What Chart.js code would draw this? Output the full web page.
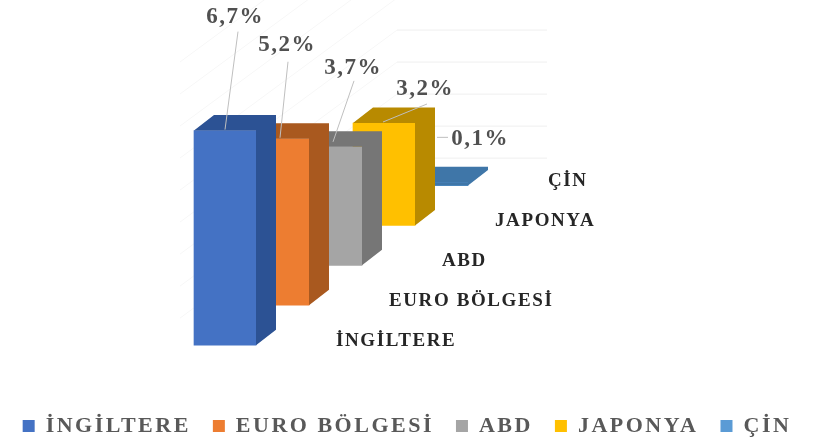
<!DOCTYPE html>
<html>
<head>
<meta charset="utf-8">
<style>
  html, body { margin: 0; padding: 0; background: #fff; }
  #wrap { width: 814px; height: 443px; }
  canvas { filter: blur(0.5px); }
</style>
<script src="https://cdn.jsdelivr.net/npm/chart.js@4"></script>
</head>
<body>
<div id="wrap"><canvas id="chart" width="814" height="443"></canvas></div>
<script>
const regions = ["İNGİLTERE", "EURO BÖLGESİ", "ABD", "JAPONYA", "ÇİN"];
const rates = [6.7, 5.2, 3.7, 3.2, 0.1];
const rateLabels = ["6,7%", "5,2%", "3,7%", "3,2%", "0,1%"];
const frontColors = ["#4472c4", "#ed7d31", "#a5a5a5", "#ffc000", "#5b9bd5"];
const sideColors = ["#2c5294", "#a9591f", "#767676", "#b88a00", "#3f76a8"];

// bars step back in depth, so each one floats a bit higher than the last
const depthStep = 1.246;
const depthX = 20;
const depthY = 15.5;

// leader line start/end and label centre, relative to the bar top
const leaders = [
  { sx: 0, sy: -1, ex: 13, ey: -99, lx: 10, ly: -114 },
  { sx: 2, sy: -1, ex: 10, ey: -77, lx: 9, ly: -94 },
  { sx: 2, sy: -5, ex: 23, ey: -66, lx: 22, ly: -79 },
  { sx: -1, sy: -1, ex: 43, ey: -19, lx: 41, ly: -34 },
  { sx: 0, sy: -45, ex: 11, ey: -45, lx: 43, ly: -43 },
];

const wallBase = 4.84;

const bars3d = {
  id: "bars3d",
  // canvas sizing wipes the context state, so set this once sizing is done
  beforeUpdate(chart) {
    chart.ctx.letterSpacing = "2.5px";
  },
  beforeDatasetsDraw(chart) {
    const ctx = chart.ctx;
    const y = chart.scales.y;
    ctx.save();
    ctx.lineWidth = 1;
    for (let n = 1; n <= 9; n++) {
      const py = y.getPixelForValue(wallBase + n);
      if (n <= 5) {
        ctx.strokeStyle = "#efefef";
        ctx.beginPath();
        ctx.moveTo(397, py);
        ctx.lineTo(547, py);
        ctx.stroke();
      }
      ctx.strokeStyle = "#f7f7f7";
      ctx.beginPath();
      ctx.moveTo(397, py);
      ctx.lineTo(180, py + 160);
      ctx.stroke();
    }
    ctx.restore();
  },
  afterDatasetDraw(chart, args) {
    const ctx = chart.ctx;
    const i = args.index;
    const bar = args.meta.data[i];
    const right = bar.x + bar.width / 2;
    const left = bar.x - bar.width / 2;
    ctx.save();
    ctx.fillStyle = sideColors[i];
    // a very short bar reads as one flat shape
    if (bar.base - bar.y < 5) {
      ctx.fillRect(left, bar.y, bar.width, bar.base - bar.y);
    }
    ctx.beginPath();
    ctx.moveTo(left, bar.y);
    ctx.lineTo(left + depthX, bar.y - depthY);
    ctx.lineTo(right + depthX, bar.y - depthY);
    ctx.lineTo(right + depthX, bar.base - depthY);
    ctx.lineTo(right, bar.base);
    ctx.lineTo(right, bar.y);
    ctx.closePath();
    ctx.fill();
    ctx.restore();
  },
  afterDatasetsDraw(chart) {
    const ctx = chart.ctx;
    ctx.save();
    ctx.textBaseline = "middle";
    regions.forEach(function (name, i) {
      const bar = chart.getDatasetMeta(i).data[i];
      const l = leaders[i];
      ctx.strokeStyle = "#bfbfbf";
      ctx.lineWidth = 1;
      ctx.beginPath();
      ctx.moveTo(bar.x + l.sx, bar.y + l.sy);
      ctx.lineTo(bar.x + l.ex, bar.y + l.ey);
      ctx.stroke();

      ctx.letterSpacing = "1.5px";
      ctx.font = "bold 23px 'Liberation Serif'";
      ctx.fillStyle = "#505050";
      ctx.textAlign = "center";
      ctx.fillText(rateLabels[i], bar.x + l.lx, bar.y + l.ly);

      ctx.letterSpacing = "1.6px";
      ctx.font = "bold 19px 'Liberation Serif'";
      ctx.fillStyle = "#262626";
      ctx.textAlign = "left";
      ctx.fillText(name, bar.x + 111, bar.base - 4);
    });
    ctx.restore();
  },
};

const canvas = document.getElementById("chart");

const datasets = regions.map(function (name, k) {
  return {
    label: name,
    data: regions.map(function (_, i) {
      return i === k ? [i * depthStep, i * depthStep + rates[i]] : null;
    }),
    backgroundColor: frontColors[k],
    barThickness: 62,
    grouped: false,
    clip: false,
  };
});

new Chart(canvas, {
  type: "bar",
  data: { labels: regions, datasets: datasets },
  plugins: [bars3d],
  options: {
    responsive: false,
    animation: false,
    layout: { padding: { bottom: -4 } },
    plugins: {
      tooltip: { enabled: false },
      legend: {
        position: "bottom",
        labels: {
          boxWidth: 12,
          boxHeight: 12,
          padding: 22,
          color: "#595959",
          font: { family: "'Liberation Serif'", size: 22, weight: "bold" },
        },
      },
    },
    scales: {
      x: { display: false },
      y: {
        min: -1.495,
        max: 10.779,
        grid: { display: false },
        border: { display: false },
        ticks: { display: false },
        afterFit: function (scale) { scale.width = 198.5; },
      },
      margin: {
        position: "right",
        grid: { display: false },
        border: { display: false },
        ticks: { display: false },
        afterFit: function (scale) { scale.width = 350.5; },
      },
    },
  },
});
</script>
</body>
</html>
